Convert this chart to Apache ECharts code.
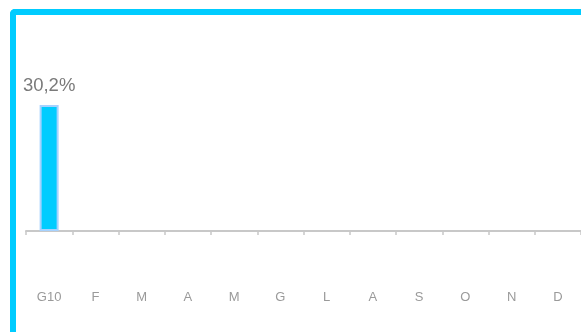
<!DOCTYPE html>
<html>
<head>
<meta charset="utf-8">
<script src="https://cdn.jsdelivr.net/npm/echarts@6/dist/echarts.min.js"></script>
<style>
  html, body { margin: 0; padding: 0; width: 581px; height: 332px; overflow: hidden; background: #fff; }
  #frame {
    position: absolute; left: 10px; top: 9px; width: 700px; height: 500px;
    border-top: 6px solid #00ccff; border-left: 6px solid #00ccff;
    border-top-left-radius: 5px; box-sizing: border-box;
  }
  #chart { position: absolute; left: 0; top: 0; width: 581px; height: 332px; }
</style>
</head>
<body>
<div id="frame"></div>
<div id="chart"></div>
<script>
// Monthly categories (Italian initials, first month of 2010)
const months = ['G10', 'F', 'M', 'A', 'M', 'G', 'L', 'A', 'S', 'O', 'N', 'D'];
// Percentage values; only the first month is reported
const values = [30.2, null, null, null, null, null, null, null, null, null, null, null];

const chart = echarts.init(document.getElementById('chart'), null, { renderer: 'canvas' });
chart.setOption({
  animation: false,
  grid: { left: 26, right: -1, top: 64, bottom: 101, containLabel: false },
  xAxis: {
    type: 'category',
    data: months,
    boundaryGap: true,
    axisLine: { show: true, lineStyle: { color: '#c8c8c8', width: 2 } },
    axisTick: { show: true, alignWithLabel: false, length: 4, lineStyle: { color: '#c8c8c8', width: 1.5 } },
    axisLabel: { color: '#9a9a9a', fontFamily: 'Liberation Sans, Arial, sans-serif', fontSize: 13, margin: 60, interval: 0 }
  },
  yAxis: {
    type: 'value', min: 0, max: 40, show: false,
    splitLine: { show: false }
  },
  series: [{
    type: 'bar',
    data: values,
    barWidth: 19,
    itemStyle: { color: '#00ccff', borderColor: '#a6d2ff', borderWidth: 2 },
    label: {
      show: true, position: 'top', distance: 10,
      color: '#7a7a7a', fontFamily: 'Liberation Sans, Arial, sans-serif', fontSize: 18.5,
      formatter: p => p.value == null ? '' : p.value.toFixed(1).replace('.', ',') + '%'
    }
  }]
});
</script>
</body>
</html>
